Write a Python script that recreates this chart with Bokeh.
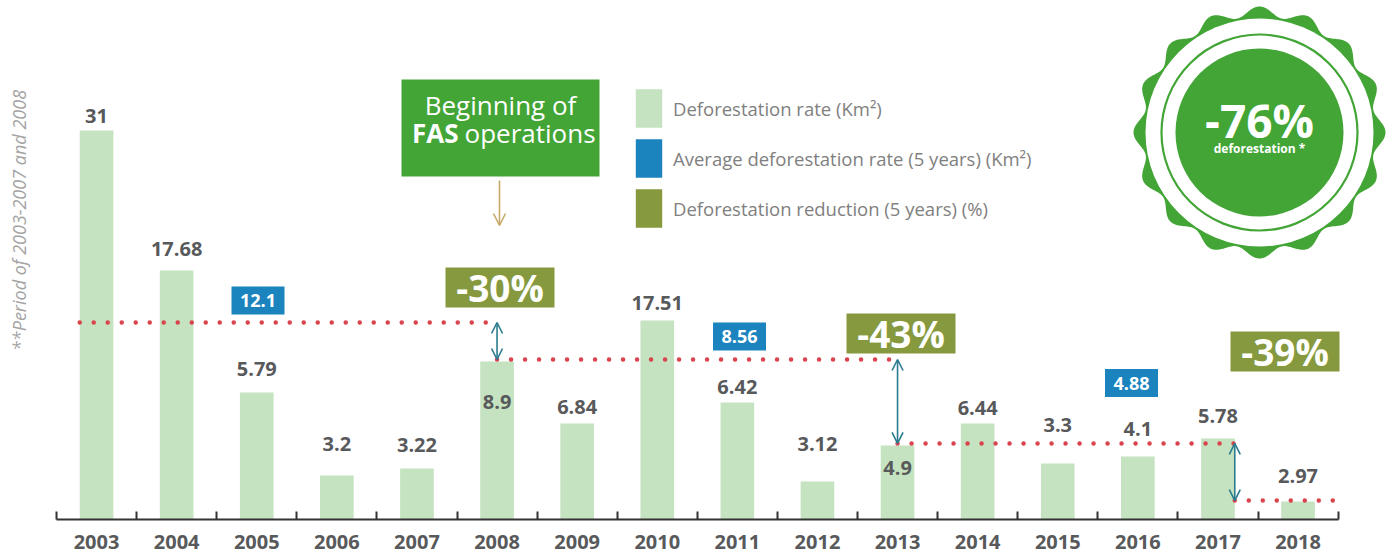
import numpy as np
from bokeh.plotting import figure
from bokeh.models import (Range1d, FixedTicker, CustomJSTickFormatter, ColumnDataSource,
                          Arrow, OpenHead, Legend, LegendItem)
from bokeh.core.properties import value
from bokeh.embed import file_html
from bokeh.resources import INLINE

# ---------------- data ----------------
years = [2003, 2004, 2005, 2006, 2007, 2008, 2009, 2010,
         2011, 2012, 2013, 2014, 2015, 2016, 2017, 2018]
rate_labels = ["31", "17.68", "5.79", "3.2", "3.22", "8.9", "6.84", "17.51",
               "6.42", "3.12", "4.9", "6.44", "3.3", "4.1", "5.78", "2.97"]
# bar heights as drawn in the infographic (same scale as the 31 bar)
bar_heights = [31.0, 19.84, 10.12, 3.51, 4.06, 12.59, 7.65, 15.86,
               9.32, 3.03, 5.90, 7.65, 4.46, 5.02, 6.46, 1.43]
avg_labels = ["12.1", "8.56", "4.88"]
reduction_labels = ["-30%", "-43%", "-39%"]
# drawn reference levels of the dotted lines
avg_levels = [15.70, 12.75, 6.06, 1.51]
badge_value = "-76%"
badge_text = "deforestation *"
legend_labels = ["Deforestation rate (Km²)",
                 "Average deforestation rate (5 years) (Km²)",
                 "Deforestation reduction (5 years) (%)"]
side_note = "**Period of 2003-2007 and 2008"

# ---------------- layout / style ----------------
FONT = value("Open Sans")
PXX = 80.1        # px per category
PXY = 12.548      # px per unit
X0_PAGE = 56      # page x of first tick
BASE_PAGE = 519   # page y of axis line
W, H = 1392, 519

def X(px):
    return (px - X0_PAGE) / PXX

def Y(py):
    return (BASE_PAGE - py) / PXY

n = len(years)
centers = [i + 0.5 for i in range(n)]
BAR_W = 0.42

GRAY = "#58595b"
LIGHT = "#c5e3c0"
BLUE = "#1b83be"
OLIVE = "#86993e"
RED = "#d9434b"
TEAL = "#2a7b8f"
GREEN = "#42a536"
TAN = "#c8a96a"

x_start = -X0_PAGE / PXX
p = figure(frame_width=W, frame_height=H,
           x_range=Range1d(x_start, x_start + W / PXX),
           y_range=Range1d(0, H / PXY),
           output_backend="svg", toolbar_location=None,
           y_axis_location=None, min_border=0, min_border_bottom=39,
           outline_line_color=None)
p.xgrid.visible = False
p.ygrid.visible = False

# ---- bars ----
bar_src = ColumnDataSource(dict(x=centers, top=bar_heights, lab=rate_labels,
                                dy=[-15, -22, -24, -31, -24, 40, -17, -17,
                                    -16, -37, 23, -16, -39, -28, -22, -26]))
bars = p.vbar(x="x", top="top", width=BAR_W, source=bar_src,
              fill_color=LIGHT, line_color=None)
p.text(x="x", y="top", text="lab", y_offset="dy", source=bar_src,
       text_font=FONT, text_font_style="bold", text_font_size="20px",
       text_color=GRAY, text_align="center", text_baseline="middle")

# ---- dotted reference lines ----
seg_x0 = [0.5 - BAR_W / 2, 5.5, 10.5, 14.5 + BAR_W / 2]
seg_x1 = [5.5, 10.5, 14.5 + BAR_W / 2, 16.0]
p.segment(x0=seg_x0, y0=avg_levels, x1=seg_x1, y1=avg_levels,
          line_color=RED, line_width=4.5, line_dash="0 14", line_cap="round")

# ---- double arrows ----
arr_src = ColumnDataSource(dict(x=[5.5, 10.5, 14.5 + BAR_W / 2],
                                y0=avg_levels[:3], y1=avg_levels[1:]))
p.add_layout(Arrow(x_start="x", y_start="y0", x_end="x", y_end="y1", source=arr_src,
                   line_color=TEAL, line_width=1.6,
                   start=OpenHead(size=11, line_color=TEAL, line_width=1.6),
                   end=OpenHead(size=11, line_color=TEAL, line_width=1.6)))

# ---- average boxes ----
avg_src = ColumnDataSource(dict(x=[X(257.5), X(739), X(1131)],
                                y=[Y(300), Y(336), Y(382.5)], t=avg_labels))
avg_r = p.rect(x="x", y="y", width=53, height=28, width_units="screen",
               height_units="screen", source=avg_src, fill_color=BLUE, line_color=None)
p.text(x="x", y="y", text="t", source=avg_src, text_font=FONT, text_font_style="bold",
       text_font_size="18px", text_color="white", text_align="center",
       text_baseline="middle")

# ---- reduction boxes ----
red_src = ColumnDataSource(dict(x=[X(499.5), X(900.5), X(1284.5)],
                                y=[Y(287), Y(333), Y(351)], t=reduction_labels))
red_r = p.rect(x="x", y="y", width=109, height=40, width_units="screen",
               height_units="screen", source=red_src, fill_color=OLIVE, line_color=None)
p.text(x="x", y="y", text="t", source=red_src, text_font=FONT, text_font_style="bold",
       text_font_size="37px", text_color="white", text_align="center",
       text_baseline="middle")

# ---- FAS box ----
p.rect(x=[X(500)], y=[Y(127.5)], width=198, height=97, width_units="screen",
       height_units="screen", fill_color=GREEN, line_color=None)
p.text(x=[X(500)], y=[Y(104)], text=["Beginning of"], text_font=FONT,
       text_font_size="26px", text_color="white", text_align="center",
       text_baseline="middle")
p.text(x=[X(458)], y=[Y(132)], text=["FAS"], text_font=FONT, text_font_style="bold",
       text_font_size="26px", text_color="white", text_align="right",
       text_baseline="middle")
p.text(x=[X(464)], y=[Y(132)], text=["operations"], text_font=FONT,
       text_font_size="26px", text_color="white", text_align="left",
       text_baseline="middle")
p.add_layout(Arrow(x_start=X(499), y_start=Y(180), x_end=X(499), y_end=Y(225),
                   line_color=TAN, line_width=1.6,
                   end=OpenHead(size=12, line_color=TAN, line_width=1.6)))

# ---- badge ----
cx, cy = 1259, 132
th = np.linspace(0, 2 * np.pi, 721)
rr = 121 + 5 * np.cos(16 * th)
p.patch(x=X(cx + rr * np.cos(th)), y=Y(cy - rr * np.sin(th)),
        fill_color=GREEN, line_color=None)
p.circle(x=[X(cx)], y=[Y(cy)], radius=114, radius_units="screen",
         fill_color="white", line_color=None)
p.circle(x=[X(cx)], y=[Y(cy)], radius=98, radius_units="screen",
         fill_color=None, line_color=GREEN, line_width=2.2)
p.circle(x=[X(cx)], y=[Y(cy)], radius=84, radius_units="screen",
         fill_color=GREEN, line_color=None)
p.text(x=[X(cx)], y=[Y(119)], text=[badge_value], text_font=FONT,
       text_font_style="bold", text_font_size="46px", text_color="white",
       text_align="center", text_baseline="middle")
p.text(x=[X(cx)], y=[Y(148)], text=[badge_text], text_font=FONT,
       text_font_style="bold", text_font_size="12px", text_color="white",
       text_align="center", text_baseline="middle")

# ---- side note ----
p.text(x=[X(18)], y=[Y(220)], text=[side_note], angle=np.pi / 2, text_font=FONT,
       text_font_style="italic", text_font_size="18px", text_color="#a3a3a3",
       text_align="center", text_baseline="middle")

# ---- legend ----
legend = Legend(items=[LegendItem(label=legend_labels[0], renderers=[bars]),
                       LegendItem(label=legend_labels[1], renderers=[avg_r]),
                       LegendItem(label=legend_labels[2], renderers=[red_r])],
                location=(632, 287), orientation="vertical",
                glyph_width=33, glyph_height=48, spacing=2, padding=0, margin=0,
                label_standoff=8, label_text_font="Open Sans",
                label_text_font_size="18.5px",
                label_text_color="#808080", border_line_color=None,
                background_fill_alpha=0)
p.add_layout(legend)

# ---- x axis ----
ax = p.xaxis[0]
ax.ticker = FixedTicker(ticks=centers, minor_ticks=list(range(n + 1)))
ax.formatter = CustomJSTickFormatter(args=dict(labels=[str(y) for y in years]),
                                     code="return labels[Math.floor(tick)];")
ax.bounds = (0, n)
ax.axis_line_width = 2
ax.axis_line_color = "#333333"
ax.major_tick_line_color = None
ax.major_tick_in = 0
ax.major_tick_out = 0
ax.minor_tick_in = 8
ax.minor_tick_out = 0
ax.minor_tick_line_width = 2
ax.minor_tick_line_color = "#333333"
ax.major_label_standoff = 15
ax.major_label_text_font = "Open Sans"
ax.major_label_text_font_style = "bold"
ax.major_label_text_font_size = "20px"
ax.major_label_text_line_height = 1.0
ax.major_label_text_color = GRAY

open("out.html", "w").write(file_html(p, INLINE))
